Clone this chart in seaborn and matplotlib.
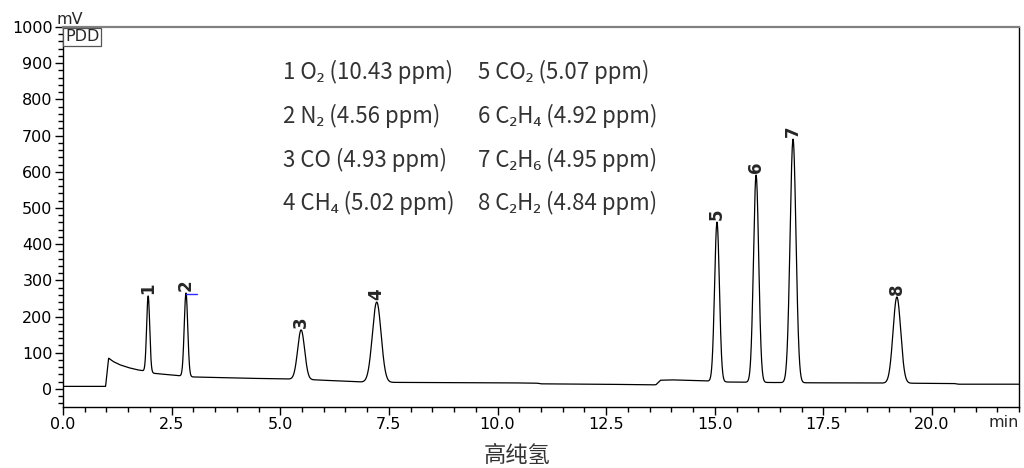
import numpy as np
import pandas as pd
import matplotlib
matplotlib.use("Agg")
import matplotlib.pyplot as plt
import seaborn as sns
from matplotlib.ticker import MultipleLocator, FormatStrFormatter

# ---- peak table (retention time in min, apex signal in mV, peak sigma in min)
peak_ids = ["1", "2", "3", "4", "5", "6", "7", "8"]
retention_min = [1.96, 2.83, 5.48, 7.22, 15.05, 15.95, 16.80, 19.19]
apex_mv = [257, 265, 163, 240, 461, 591, 690, 254]
sigma_min = [0.035, 0.040, 0.080, 0.100, 0.055, 0.060, 0.068, 0.088]

# ---- detector baseline drift (min, mV)
baseline_t = [0.0, 0.98, 1.05, 1.15, 1.3, 1.5, 1.7, 1.85, 2.1, 2.7, 3.0, 4.0,
              5.3, 5.8, 6.9, 7.6, 10.0, 10.9, 11.0, 12.4, 13.6, 13.65, 13.75,
              14.0, 14.8, 15.3, 16.0, 17.0, 19.0, 20.5, 20.6, 22.0]
baseline_mv = [7, 7, 85, 76, 67, 59, 53, 50, 43, 36, 33, 30,
               27, 25, 19, 18, 17, 16, 14, 13, 11, 12, 24,
               25, 22, 19, 18, 17, 16, 15, 13, 13]

# ---- components and concentrations
compounds = ["O₂", "N₂", "CO", "CH₄", "CO₂", "C₂H₄", "C₂H₆", "C₂H₂"]
conc_ppm = ["10.43", "4.56", "4.93", "5.02", "5.07", "4.92", "4.95", "4.84"]

x_major = [0.0, 2.5, 5.0, 7.5, 10.0, 12.5, 15.0, 17.5, 20.0]

# ---- build the trace
t = np.linspace(0.0, 22.0, 6000)
base = np.interp(t, baseline_t, baseline_mv)
signal = base.copy()
for rt, apex, sg in zip(retention_min, apex_mv, sigma_min):
    amp = apex - np.interp(rt, baseline_t, baseline_mv)
    signal += amp * np.exp(-0.5 * ((t - rt) / sg) ** 2)
df = pd.DataFrame({"time": t, "signal": signal})

sns.set_theme(style="ticks")
plt.rcParams["font.family"] = ["DejaVu Sans"]

fig = plt.figure(figsize=(10.24, 4.68), dpi=100)
ax = fig.add_axes([63 / 1024, 1 - 407 / 468, (1019 - 63) / 1024, (407 - 27) / 468])

sns.lineplot(data=df, x="time", y="signal", ax=ax, color="black",
             linewidth=0.9, estimator=None, sort=False)

ax.set_xlim(0, 22)
ax.set_ylim(-50, 1000)
ax.set_xlabel("")
ax.set_ylabel("")

ax.set_xticks(x_major)
ax.xaxis.set_major_formatter(FormatStrFormatter("%.1f"))
ax.xaxis.set_minor_locator(MultipleLocator(0.5))
ax.yaxis.set_major_locator(MultipleLocator(100))
ax.yaxis.set_minor_locator(MultipleLocator(20))
ax.tick_params(axis="both", which="major", direction="out", length=6,
               width=1, color="black", labelsize=11.5, labelcolor="black", pad=1.5)
ax.tick_params(axis="both", which="minor", direction="out", length=3.5,
               width=1, color="black")

for s in ["left", "bottom", "right"]:
    ax.spines[s].set_color("black")
    ax.spines[s].set_linewidth(1.0)
ax.spines["top"].set_color("#808080")
ax.spines["top"].set_linewidth(1.6)

# units and detector tag
ax.text(0.007, 1.0, "mV", transform=ax.transAxes, ha="center", va="bottom",
        fontsize=11.5)
ax.text(0.002, 0.994, "PDD", transform=ax.transAxes, ha="left", va="top",
        fontsize=11.5,
        bbox=dict(boxstyle="square,pad=0.1", fc="white", ec="#555555", lw=0.9))
ax.text(1.0, -0.022, "min", transform=ax.transAxes, ha="right", va="top",
        fontsize=11.5)

# peak numbers
for pid, rt, apex in zip(peak_ids, retention_min, apex_mv):
    ax.annotate(pid, xy=(rt, apex), xytext=(0, 1.5), textcoords="offset points",
                rotation=90, ha="center", va="bottom", fontsize=12,
                fontweight="bold")

# integration marker on peak 2
ax.plot([retention_min[1], retention_min[1] + 0.25],
        [apex_mv[1] - 3, apex_mv[1] - 3], color="#2a2aff", lw=1)

# component list
cjk = ["Noto Sans CJK SC", "Noto Sans", "DejaVu Sans"]
col_x = [0.230, 0.434]
row_y = [0.882, 0.765, 0.651, 0.537]
for i, (name, c) in enumerate(zip(compounds, conc_ppm)):
    ax.text(col_x[i // 4], row_y[i % 4], f"{i + 1} {name} ({c} ppm)",
            transform=ax.transAxes, ha="left", va="center", fontsize=16,
            color="#333333", family=cjk)

fig.text(517 / 1024, 13 / 468, "高纯氢", ha="center", va="center",
         fontsize=16, color="#333333", family=cjk)

fig.savefig("out.png", dpi=100)
